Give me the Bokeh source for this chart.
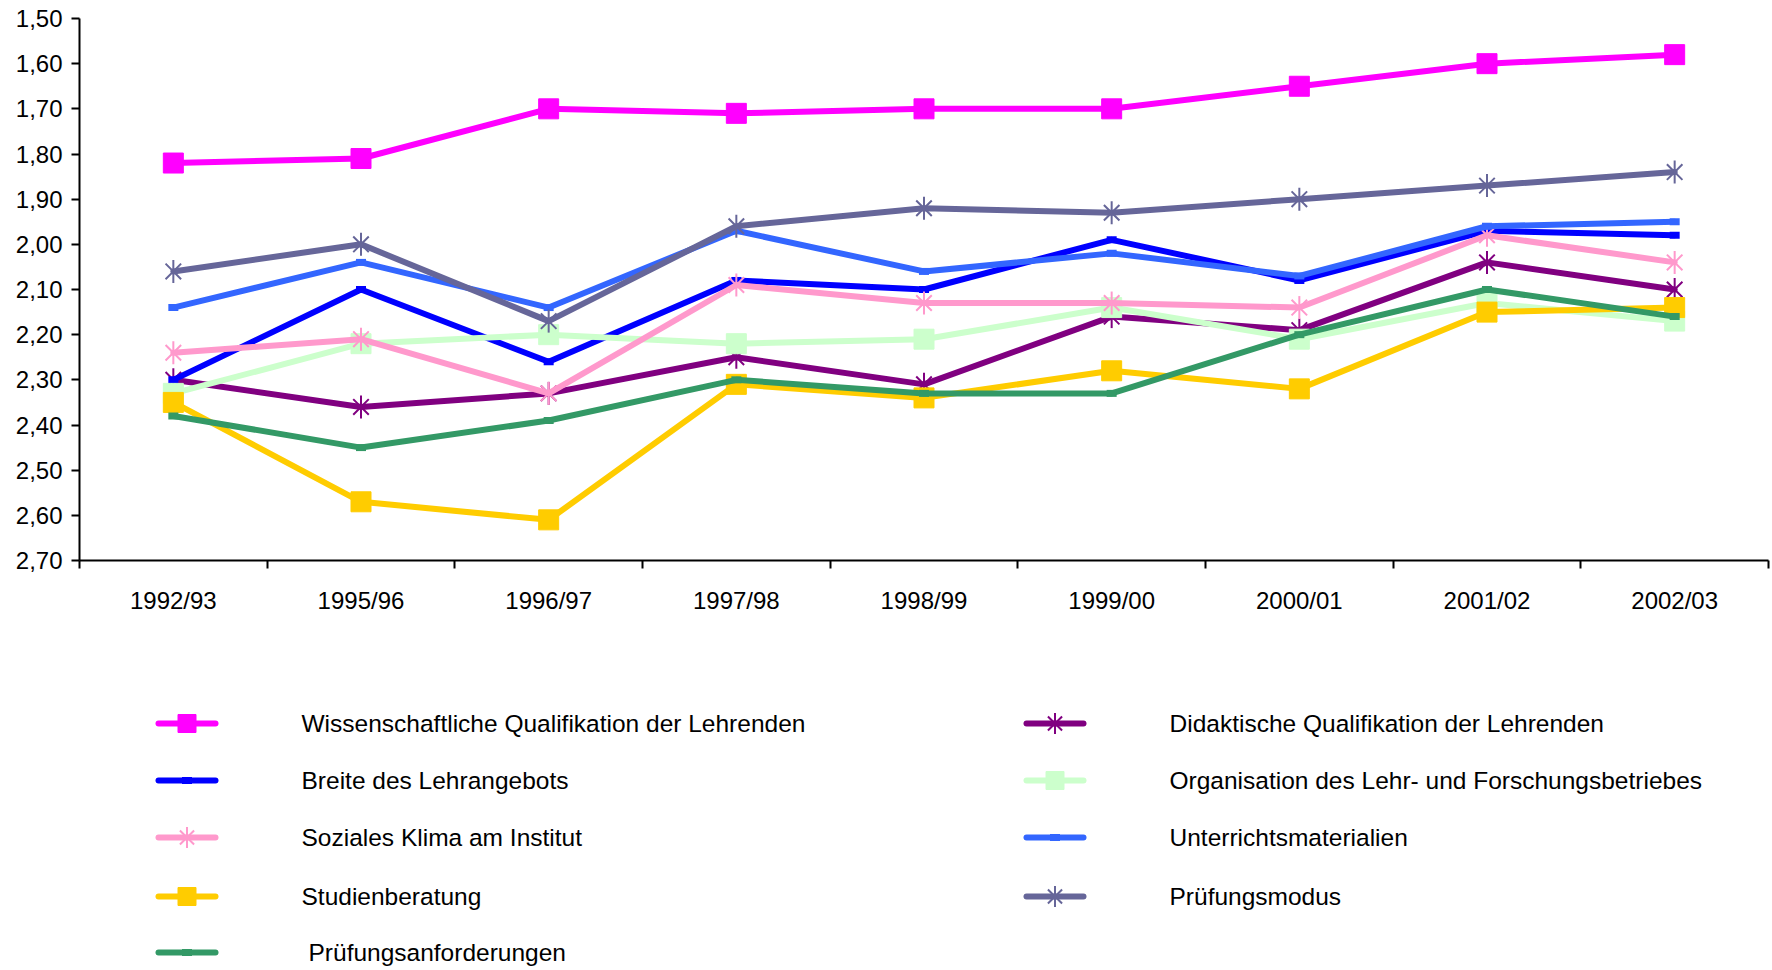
import numpy as np
from bokeh.plotting import figure
from bokeh.layouts import column
from bokeh.models import Range1d, FixedTicker, ColumnDataSource
from bokeh.core.properties import value
from bokeh.embed import file_html
from bokeh.resources import INLINE

# ---------------- data ----------------
years = ["1992/93", "1995/96", "1996/97", "1997/98", "1998/99",
         "1999/00", "2000/01", "2001/02", "2002/03"]

y_ticks = [1.5, 1.6, 1.7, 1.8, 1.9, 2.0, 2.1, 2.2, 2.3, 2.4, 2.5, 2.6, 2.7]
y_tick_labels = ["1,50", "1,60", "1,70", "1,80", "1,90", "2,00", "2,10",
                 "2,20", "2,30", "2,40", "2,50", "2,60", "2,70"]

wissenschaftlich = [1.82, 1.81, 1.70, 1.71, 1.70, 1.70, 1.65, 1.60, 1.58]
didaktisch = [2.30, 2.36, 2.33, 2.25, 2.31, 2.16, 2.19, 2.04, 2.10]
breite = [2.30, 2.10, 2.26, 2.08, 2.10, 1.99, 2.08, 1.97, 1.98]
organisation = [2.33, 2.22, 2.20, 2.22, 2.21, 2.14, 2.21, 2.13, 2.17]
sozial = [2.24, 2.21, 2.33, 2.09, 2.13, 2.13, 2.14, 1.98, 2.04]
unterricht = [2.14, 2.04, 2.14, 1.97, 2.06, 2.02, 2.07, 1.96, 1.95]
studienberatung = [2.35, 2.57, 2.61, 2.31, 2.34, 2.28, 2.32, 2.15, 2.14]
pruefungsmodus = [2.06, 2.00, 2.17, 1.96, 1.92, 1.93, 1.90, 1.87, 1.84]
pruefungsanf = [2.38, 2.45, 2.39, 2.30, 2.33, 2.33, 2.20, 2.10, 2.16]

labels = ["Wissenschaftliche Qualifikation der Lehrenden",
          "Didaktische Qualifikation der Lehrenden",
          "Breite des Lehrangebots",
          "Organisation des Lehr- und Forschungsbetriebes",
          "Soziales Klima am Institut",
          "Unterrichtsmaterialien",
          "Studienberatung",
          "Prüfungsmodus",
          "Prüfungsanforderungen"]
values = [wissenschaftlich, didaktisch, breite, organisation, sozial,
          unterricht, studienberatung, pruefungsmodus, pruefungsanf]
colors = ["#FF00FF", "#800080", "#0000FF", "#CCFFCC", "#FF99CC",
          "#3366FF", "#FFCC00", "#666699", "#339966"]
markers = ["square", "asterisk", "dash", "square", "asterisk",
           "dash", "square", "asterisk", "dash"]

FONT = "Liberation Sans"
W = 1772
LEFT = 79
RIGHT_PAD = 4
LINE_W = 6

# ---------------- main chart ----------------
xs = list(range(1, len(years) + 1))

p = figure(width=W, height=630,
           x_range=Range1d(0.5, len(years) + 0.5),
           y_range=Range1d(2.70, 1.50),
           output_backend="svg", toolbar_location=None,
           min_border_left=LEFT, min_border_right=RIGHT_PAD,
           min_border_top=18, min_border_bottom=70)
p.outline_line_color = None
p.grid.visible = False

xa = p.xaxis[0]
xa.ticker = FixedTicker(ticks=xs, minor_ticks=[i + 0.5 for i in range(len(years) + 1)])
xa.major_label_overrides = {x: y for x, y in zip(xs, years)}
xa.major_tick_out = 0
xa.major_tick_in = 0
xa.minor_tick_out = 8
xa.minor_tick_in = 0
xa.minor_tick_line_width = 2
xa.minor_tick_line_color = "black"
xa.axis_line_width = 2
xa.axis_line_color = "black"
xa.major_label_standoff = 18
xa.major_label_text_font = FONT
xa.major_label_text_font_size = "24px"
xa.major_label_text_color = "black"

ya = p.yaxis[0]
ya.ticker = FixedTicker(ticks=y_ticks)
ya.major_label_overrides = {t: s for t, s in zip(y_ticks, y_tick_labels)}
ya.major_tick_out = 8
ya.major_tick_in = 0
ya.major_tick_line_width = 2
ya.major_tick_line_color = "black"
ya.minor_tick_out = 0
ya.minor_tick_in = 0
ya.axis_line_width = 2
ya.axis_line_color = "black"
ya.major_label_standoff = 9
ya.major_label_text_font = FONT
ya.major_label_text_font_size = "24px"
ya.major_label_text_color = "black"


def draw_markers(fig, x, y, col, mk, big):
    if mk == "square":
        fig.scatter(x, y, marker="square", size=big, fill_color=col, line_color=col)
    elif mk == "asterisk":
        fig.scatter(x, y, marker="x", size=big + 2, line_color=col, line_width=2)
        fig.scatter(x, y, marker="dash", angle=np.pi / 2, size=big + 3,
                    line_color=col, line_width=2)
    else:
        fig.scatter(x, y, marker="dash", size=10, line_color=col, line_width=7)


for vals, col, mk in zip(values, colors, markers):
    p.line(xs, vals, line_color=col, line_width=LINE_W,
           line_join="round", line_cap="round")
    draw_markers(p, xs, vals, col, mk, 20)

# ---------------- legend (separate panel, frame aligned with chart) ----------------
LH = 340
lg = figure(width=W, height=LH, x_range=Range1d(LEFT, W - RIGHT_PAD),
            y_range=Range1d(LH, 0),
            output_backend="svg", toolbar_location=None,
            min_border_left=LEFT, min_border_right=RIGHT_PAD,
            min_border_top=0, min_border_bottom=0)
lg.axis.visible = False
lg.grid.visible = False
lg.outline_line_color = None

col_x = [158, 1026]          # sample line start per legend column (page px)
sample_len = 57
text_gap = 86
row_y = [93, 150, 207, 266, 322]

tx, ty, tt = [], [], []
for i, (lab, col, mk) in enumerate(zip(labels, colors, markers)):
    c, r = i % 2, i // 2
    x0 = col_x[c]
    x1 = x0 + sample_len
    yc = row_y[r]
    lg.line([x0, x1], [yc, yc], line_color=col, line_width=LINE_W, line_cap="round")
    draw_markers(lg, [(x0 + x1) / 2], [yc], col, mk, 18)
    tx.append(x1 + text_gap + (7 if i == 8 else 0))
    ty.append(yc)
    tt.append(lab)

lg.text(x="x", y="y", text="t", source=ColumnDataSource(dict(x=tx, y=ty, t=tt)),
        text_font=value(FONT), text_font_size="24.5px", text_color="black",
        text_baseline="middle", text_align="left")

layout = column(p, lg, spacing=0)
open("out.html", "w").write(file_html(layout, INLINE))
